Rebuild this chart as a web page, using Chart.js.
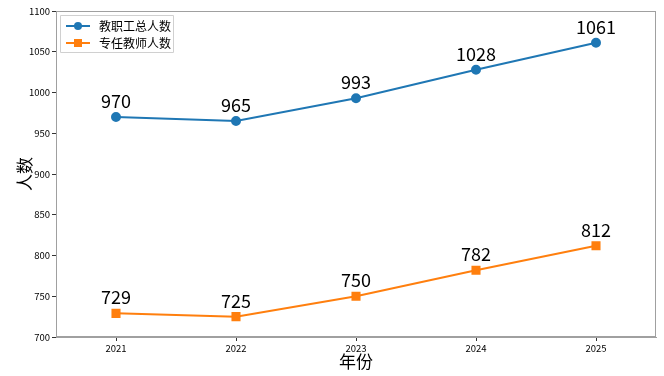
<!DOCTYPE html>
<html>
<head>
<meta charset="utf-8">
<script src="https://cdn.jsdelivr.net/npm/chart.js@4"></script>
<style>
html,body{margin:0;padding:0;background:#fff;}
#wrap{width:664px;height:376px;}
</style>
</head>
<body>
<div id="wrap"><canvas id="mycanvas" width="664" height="376"></canvas></div>
<script>
var years = ["2021", "2022", "2023", "2024", "2025"];
var totalStaff = [970, 965, 993, 1028, 1061];
var fullTeachers = [729, 725, 750, 782, 812];
var seriesNames = ["教职工总人数", "专任教师人数"];
var yTicks = [700, 750, 800, 850, 900, 950, 1000, 1050, 1100];

var FONT = "'Noto Sans CJK SC', 'DejaVu Sans', sans-serif";
var NUMFONT = "'Liberation Sans Narrow', 'Noto Sans CJK SC', sans-serif";
var BLUE = "#1f77b4", ORANGE = "#ff7f0e";

// value labels, box frame and legend, matplotlib style
var extras = {
	id: "extras",
	afterDatasetsDraw: function(chart){
		var ctx = chart.ctx, a = chart.chartArea;
		ctx.save();
		ctx.fillStyle = "#000";
		ctx.font = "18px " + NUMFONT;
		ctx.textAlign = "center";
		ctx.textBaseline = "alphabetic";
		chart.data.datasets.forEach(function(ds, i){
			chart.getDatasetMeta(i).data.forEach(function(pt, j){
				ctx.fillText(String(ds.data[j]), pt.x, pt.y - 9);
			});
		});
		ctx.strokeStyle = "#a0a0a0";
		ctx.lineWidth = 1;
		ctx.strokeRect(a.left + 0.5, a.top + 0.5, a.right - a.left - 1, a.bottom - a.top - 1);

		// legend
		var lx = a.left + 4, ly = a.top + 4;
		ctx.fillStyle = "rgba(255,255,255,0.8)";
		ctx.strokeStyle = "#d0d0d0";
		ctx.beginPath();
		ctx.rect(lx + 0.5, ly + 0.5, 113, 37);
		ctx.fill();
		ctx.stroke();
		var cols = [BLUE, ORANGE];
		ctx.font = "12px " + FONT;
		ctx.textAlign = "left";
		ctx.textBaseline = "middle";
		for (var k = 0; k < 2; k++) {
			var yy = ly + 11 + k * 17;
			ctx.strokeStyle = cols[k];
			ctx.lineWidth = 2;
			ctx.beginPath();
			ctx.moveTo(lx + 6, yy);
			ctx.lineTo(lx + 30, yy);
			ctx.stroke();
			ctx.fillStyle = cols[k];
			if (k == 0) {
				ctx.beginPath();
				ctx.arc(lx + 18, yy, 4, 0, Math.PI * 2);
				ctx.fill();
			} else {
				ctx.fillRect(lx + 14, yy - 4, 8, 8);
			}
			ctx.fillStyle = "#000";
			ctx.fillText(seriesNames[k], lx + 39, yy);
		}
		ctx.restore();
	}
};

var chartdata = {
	labels: years,
	datasets: [
	{
		label: seriesNames[0],
		data: totalStaff,
		borderColor: BLUE,
		backgroundColor: BLUE,
		borderWidth: 2,
		pointStyle: "circle",
		pointRadius: 4,
		pointHoverRadius: 4
	},
	{
		label: seriesNames[1],
		data: fullTeachers,
		borderColor: ORANGE,
		backgroundColor: ORANGE,
		borderWidth: 2,
		pointStyle: "rect",
		pointRadius: 5,
		pointHoverRadius: 5
	}
	]
};

var barGraph = new Chart(document.getElementById("mycanvas"), {
	type: "line",
	data: chartdata,
	plugins: [extras],
	options: {
		responsive: false,
		animation: false,
		layout: {padding: {top: 11, right: 8, left: 0, bottom: 0}},
		plugins: {legend: {display: false}, tooltip: {enabled: false}},
		scales: {
			x: {
				offset: true,
				grid: {display: true, drawOnChartArea: false, tickLength: 4, color: "#333"},
				border: {color: "#a0a0a0"},
				ticks: {color: "#000", font: {family: FONT, size: 9.5}, padding: 2, maxRotation: 0},
				title: {display: true, text: "年份", color: "#000", font: {family: FONT, size: 17}, padding: {top: 0, bottom: 4}},
				afterFit: function(s){ s.height = 39; }
			},
			y: {
				min: 700,
				max: 1100,
				afterBuildTicks: function(s){ s.ticks = yTicks.map(function(v){ return {value: v}; }); },
				grid: {display: true, drawOnChartArea: false, tickLength: 4, color: "#333"},
				border: {color: "#a0a0a0"},
				ticks: {color: "#000", font: {family: FONT, size: 9.5}, padding: 2, callback: function(v){ return String(v); }},
				title: {display: true, text: "人数", color: "#000", font: {family: FONT, size: 17}, padding: {top: 14, bottom: 0}},
				afterFit: function(s){ s.width = 56; }
			}
		}
	}
});
</script>
</body>
</html>
